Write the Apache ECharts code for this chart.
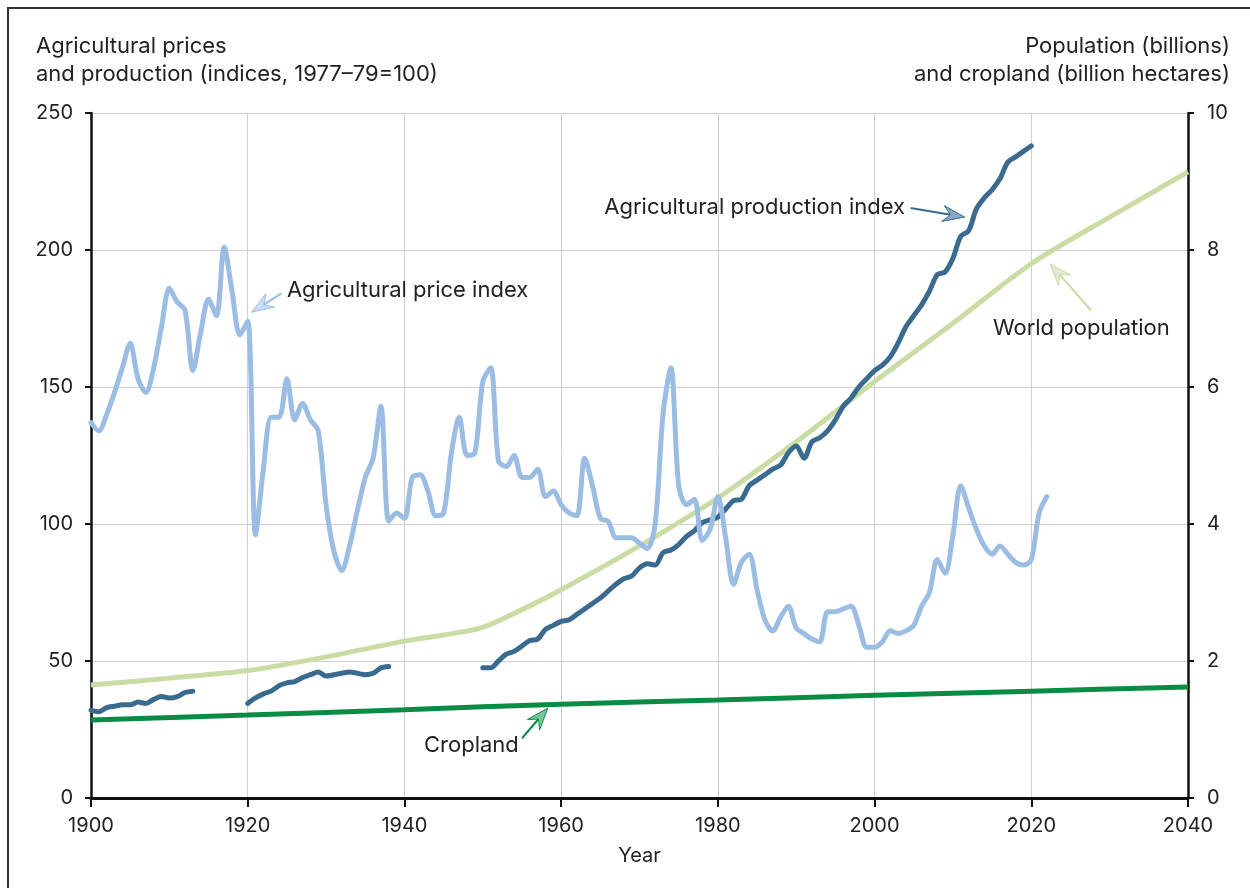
<!DOCTYPE html>
<html><head><meta charset="utf-8">
<script src="https://cdn.jsdelivr.net/npm/echarts@6/dist/echarts.min.js"></script>
<style>html,body{margin:0;padding:0;background:#fff}#c{width:1250px;height:888px}</style>
</head><body><div id="c"></div>
<script>
const xTicks = [1900,1920,1940,1960,1980,2000,2020,2040];
const leftTicks = [0,50,100,150,200,250];
const rightTicks = [0,2,4,6,8,10];

const priceStart = 1900;
const priceValues = [137,134,140,148,157,166,153,148,157,172,186,181,178,156,170,182,176,201,185,169,
174,96,120,139,139,153,138,144,138,134,107,90,83,92,105,117,124,143,101,104,
102,117,118,112,103,104,126,139,125,126,152,157,123,121,125,117,117,120,110,112,
107,104,103,124,114,102,101,95,95,95,93,91,100,140,157,114,107,109,94,98,
110,95,78,86,89,76,65,61,66,70,62,60,58,57,68,68,69,70,63,55,
55,57,61,60,61,63,70,75,87,82,96,114,106,98,92,89,92,89,86,85,
87,104,110];

const prodStart1 = 1900;
const prodValues1 = [32,31.5,33,33.5,34,34,35,34.5,36,37,36.5,37,38.5,39];
const prodStart2 = 1920;
const prodValues2 = [34.5,36.5,38,39,41,42,42.5,44,45,46,44.5,45,45.5,46,45.5,45,45.5,47.5,48];
const prodStart3 = 1950;
const prodValues3 = [47.5,47.5,50,52.5,53.5,55.5,57.5,58,61.5,63,64.5,65,67,69,71,73,75.5,78,80,81,
84,85.5,85,89.5,90.5,92.5,95.5,97.5,100.5,101.5,102.5,105.5,108.5,109,114,116,118,120,121.5,126,
128.5,124,130,131.5,134,138,143,146,150,153,156,158,161,166,172,176,180,185,191,192,
197,205,207,215,219,222,226,232,234,236,238];

const popYears = [1900,1910,1920,1930,1940,1945,1950,1955,1960,1970,1980,1990,2000,2010,2020,2030,2040];
const popValues = [1.65,1.75,1.86,2.06,2.29,2.38,2.49,2.75,3.04,3.68,4.38,5.2,6.08,6.93,7.8,8.48,9.14];

const cropYears = [1900,1920,1940,1960,1980,2000,2020,2040];
const cropValues = [1.14,1.21,1.29,1.37,1.43,1.5,1.56,1.62];

function seq(start, vals){ return vals.map((v,i)=>[start+i, v]); }
function pairs(xs, vals){ return xs.map((x,i)=>[x, vals[i]]); }

const FONT = 'Inter';
const chart = echarts.init(document.getElementById('c'));

const LW = 5;
const prodStyle = {type:'line', yAxisIndex:0, showSymbol:false, smooth:0.3, lineStyle:{color:'#3b6a8f', width:LW, cap:'round'}, z:4};

chart.setOption({
  animation:false,
  grid:{left:91, right:62, top:113, bottom:90},
  xAxis:{type:'value', min:1900, max:2040, interval:20,
    name:'Year', nameLocation:'middle', nameGap:48,
    nameTextStyle:{fontFamily:FONT, fontSize:20, color:'#222'},
    axisLine:{onZero:false, lineStyle:{color:'#111', width:3}},
    axisTick:{length:9, lineStyle:{color:'#111', width:2}},
    axisLabel:{fontFamily:FONT, fontSize:20, color:'#222', margin:18, formatter:v=>String(v)},
    splitLine:{show:true, lineStyle:{color:'#cfcfcf', width:1}}},
  yAxis:[
    {type:'value', min:0, max:250, interval:50, position:'left',
     axisLine:{show:true, lineStyle:{color:'#111', width:2.5}},
     axisTick:{show:true, length:6, lineStyle:{color:'#111', width:2}},
     axisLabel:{fontFamily:FONT, fontSize:20, color:'#222', margin:18},
     splitLine:{show:true, lineStyle:{color:'#cfcfcf', width:1}}},
    {type:'value', min:0, max:10, interval:2, position:'right',
     axisLine:{show:true, lineStyle:{color:'#111', width:2.5}},
     axisTick:{show:true, length:6, lineStyle:{color:'#111', width:2}},
     axisLabel:{fontFamily:FONT, fontSize:20, color:'#222', margin:19},
     splitLine:{show:false}}
  ],
  series:[
    {name:'Cropland', type:'line', yAxisIndex:1, showSymbol:false, smooth:0.3, data:pairs(cropYears,cropValues),
     lineStyle:{color:'#0a8c45', width:LW}, z:2},
    {name:'World population', type:'line', yAxisIndex:1, showSymbol:false, smooth:0.3, data:pairs(popYears,popValues),
     lineStyle:{color:'#c9dca3', width:LW}, z:3},
    Object.assign({name:'Agricultural production index', data:seq(prodStart1,prodValues1)}, prodStyle),
    Object.assign({name:'Agricultural production index 2', data:seq(prodStart2,prodValues2)}, prodStyle),
    Object.assign({name:'Agricultural production index 3', data:seq(prodStart3,prodValues3)}, prodStyle),
    {name:'Agricultural price index', type:'line', yAxisIndex:0, showSymbol:false, smooth:0.3, data:seq(priceStart,priceValues),
     lineStyle:{color:'#9bbde3', width:LW, cap:'round'}, z:5}
  ]
});

// annotations in data coordinates (left axis units)
const annotations = [
  {text:'Agricultural price index', at:[1925.0,185.4], align:'left', tail:[1924.3,184.2], tip:[1920.5,177.3], color:'#9bbde3', fill:'#c9dcf2'},
  {text:'Agricultural production index', at:[2003.9,215.7], align:'right', tail:[2004.6,215.3], tip:[2011.5,212], color:'#3b6a8f', fill:'#8aa8c2'},
  {text:'World population', at:[2015.1,171.5], align:'left', tail:[2027.6,178], tip:[2022.4,195], color:'#c9dca3', fill:'#dfead0'},
  {text:'Cropland', at:[1954.6,19.3], align:'right', tail:[1955.0,21.8], tip:[1958.3,32.8], color:'#0a8c45', fill:'#7cc49a'}
];

const g = [];
g.push({type:'rect', shape:{x:8, y:8, width:1260, height:900}, style:{fill:'none', stroke:'#333', lineWidth:2}, z:0, silent:true});
g.push({type:'text', x:36, y:32, style:{text:'Agricultural prices\nand production (indices, 1977–79=100)', font:'22px '+FONT, fill:'#222', lineHeight:28, align:'left'}});
g.push({type:'text', x:1230, y:32, style:{text:'Population (billions)\nand cropland (billion hectares)', font:'22px '+FONT, fill:'#222', lineHeight:28, align:'right'}});

annotations.forEach(a=>{
  const p = chart.convertToPixel({xAxisIndex:0, yAxisIndex:0}, a.at);
  const t = chart.convertToPixel({xAxisIndex:0, yAxisIndex:0}, a.tail);
  const h = chart.convertToPixel({xAxisIndex:0, yAxisIndex:0}, a.tip);
  g.push({type:'text', x:p[0], y:p[1], z:10, style:{text:a.text, font:'22px '+FONT, fill:'#222', align:a.align, verticalAlign:'middle'}});
  const dx = h[0]-t[0], dy = h[1]-t[1], L = Math.hypot(dx,dy), ux = dx/L, uy = dy/L, nx = -uy, ny = ux;
  const hl = 22, hw = 8;
  const bx = h[0]-ux*hl, by = h[1]-uy*hl;
  const notchX = h[0]-ux*hl*0.65, notchY = h[1]-uy*hl*0.65;
  g.push({type:'line', z:10, shape:{x1:t[0], y1:t[1], x2:notchX, y2:notchY}, style:{stroke:a.color, lineWidth:2}});
  g.push({type:'polygon', z:10, shape:{points:[[h[0],h[1]],[bx+nx*hw,by+ny*hw],[notchX,notchY],[bx-nx*hw,by-ny*hw]]},
    style:{fill:a.fill, stroke:a.color, lineWidth:1}});
});
chart.setOption({graphic:g});
</script></body></html>
